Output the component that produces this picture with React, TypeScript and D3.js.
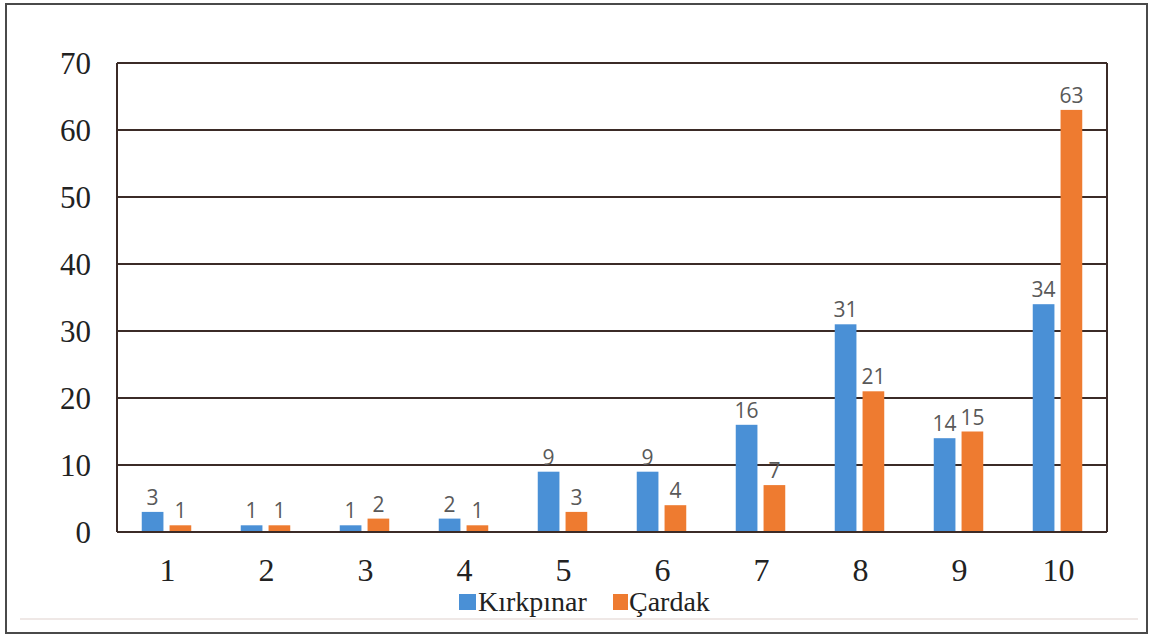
import React from "react";
import * as d3 from "d3";

const categories = ["1", "2", "3", "4", "5", "6", "7", "8", "9", "10"];
const seriesNames = ["Kırkpınar", "Çardak"];
const kirkpinar = [3, 1, 1, 2, 9, 9, 16, 31, 14, 34];
const cardak = [1, 1, 2, 1, 3, 4, 7, 21, 15, 63];
const yTicks = [0, 10, 20, 30, 40, 50, 60, 70];
const colors = ["#4a90d6", "#ee7b30"];

const W = 1152;
const H = 635;
const left = 117;
const right = 1107;
const top = 63;
const bottom = 532;

export default function App() {
  const x0 = d3.scaleBand<string>().domain(categories).range([left, right]).paddingInner(0.5).paddingOuter(0.25);
  const x1 = d3.scaleBand<string>().domain(seriesNames).range([0, x0.bandwidth()]).paddingInner(0.22);
  const y = d3.scaleLinear().domain([0, 70]).range([bottom, top]);
  const values = [kirkpinar, cardak];
  const serif = "Liberation Serif, serif";
  const sans = "Open Sans, DejaVu Sans, sans-serif";
  const gridColor = "#3b2b27";

  return (
    <svg width={W} height={H} style={{ position: "absolute", left: 0, top: 0, background: "#fff" }}>
      <rect x={6} y={4} width={1141} height={629} fill="#fff" stroke="#4a4a4a" strokeWidth={2} />
      <line x1={20} x2={1138} y1={619} y2={619} stroke="#efe8e6" strokeWidth={2} />
      {yTicks.map((t) => (
        <g key={t}>
          <line x1={left} x2={right} y1={y(t)} y2={y(t)} stroke={gridColor} strokeWidth={2} />
          <text x={91} y={y(t)} dy="0.35em" textAnchor="end" fontFamily={serif} fontSize={31} fill="#222">
            {t}
          </text>
        </g>
      ))}
      <line x1={left} x2={left} y1={top} y2={bottom} stroke={gridColor} strokeWidth={2} />
      <line x1={right} x2={right} y1={top} y2={bottom} stroke={gridColor} strokeWidth={2} />
      {categories.map((c, i) => (
        <g key={c}>
          {seriesNames.map((s, j) => {
            const v = values[j][i];
            const bx = (x0(c) ?? 0) + (x1(s) ?? 0);
            return (
              <g key={s}>
                <rect x={bx} y={y(v)} width={x1.bandwidth()} height={y(0) - y(v)} fill={colors[j]} />
                <text
                  x={bx + x1.bandwidth() / 2}
                  y={y(v) - 7}
                  textAnchor="middle"
                  fontFamily={sans}
                  fontSize={21}
                  fill="#595959"
                >
                  {v}
                </text>
              </g>
            );
          })}
          <text
            x={(x0(c) ?? 0) + x0.bandwidth() / 2 + 1}
            y={570}
            dy="0.35em"
            textAnchor="middle"
            fontFamily={serif}
            fontSize={32}
            fill="#222"
          >
            {c}
          </text>
        </g>
      ))}
      <line x1={left} x2={right} y1={bottom} y2={bottom} stroke={gridColor} strokeWidth={2} />
      <g>
        <rect x={459} y={594} width={17} height={16} fill={colors[0]} />
        <text x={478} y={611} fontFamily={serif} fontSize={28} fill="#222">
          {seriesNames[0]}
        </text>
        <rect x={613} y={594} width={15} height={16} fill={colors[1]} />
        <text x={629} y={611} fontFamily={serif} fontSize={28} fill="#222">
          {seriesNames[1]}
        </text>
      </g>
    </svg>
  );
}
